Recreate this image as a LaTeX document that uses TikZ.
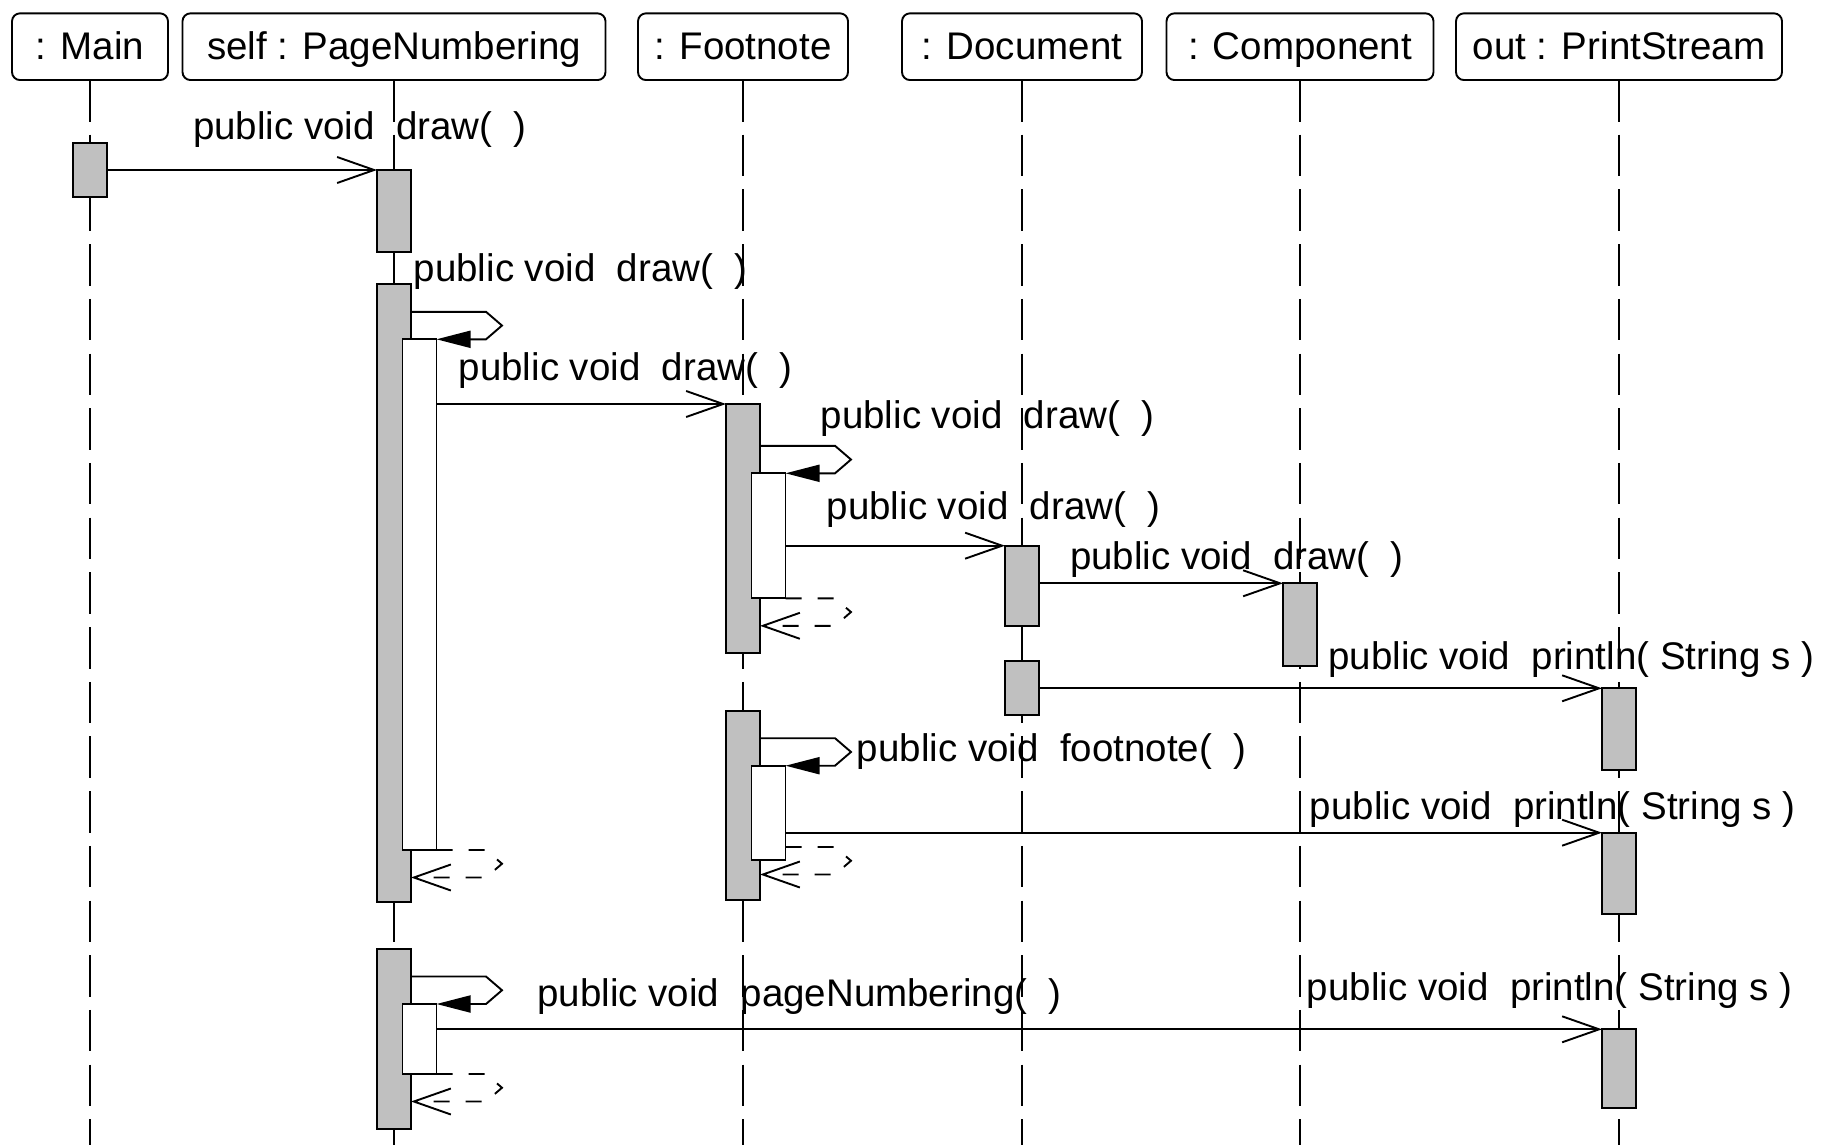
\documentclass[tikz,border=0pt]{standalone}
\usepackage{fontspec}
\setmainfont{Liberation Sans}
\usetikzlibrary{arrows.meta}
\definecolor{actgray}{RGB}{192,192,192}
\newcommand{\selfcall}[2]{%
  \coordinate (sc) at (#1.east |- #2.north);
  \draw[call] ([yshift=13.75pt]sc) -- ++(75,0) -- ++(16,13.75) -- ++(-16,13.75) -- (#2.north east);}
\newcommand{\retcall}[3]{%
  \coordinate (rc) at (#2.south east);
  \coordinate (rg) at (#1.east |- rc);
  \draw[ret] ([yshift=#3]rc) -- ([yshift=#3,xshift=37.5pt]rg) -- ++(16,13.75) -- ++(-16,13.75) -- ([yshift=#3-13.75pt]rg);}
\begin{document}
\begin{tikzpicture}[x=0.5pt,y=-0.5pt,
  every node/.style={font=\fontsize{19.25}{22}\selectfont},
  lw/.style={line width=0.95pt},
  head/.style={draw, lw, rounded corners=4pt, minimum height=33.35pt, inner sep=0pt, outer sep=0pt, text height=15.5pt, text depth=2.5pt},
  life/.style={lw, dash pattern=on 20.75pt off 6.6pt},
  act/.style={draw, lw, fill=actgray, minimum width=17pt, inner sep=0pt, outer sep=0pt, anchor=north},
  nest/.style={act, fill=white},
  msg/.style={lw, -{Straight Barb[length=18.5pt,width=13pt]}},
  call/.style={lw, -{Triangle[length=17pt,width=8.5pt]}},
  ret/.style={lw, dash pattern=on 8pt off 8pt, -{Straight Barb[length=18.5pt,width=13pt]}},
  lbl/.style={anchor=base west, inner sep=0pt}
]
\path[use as bounding box] (0,0) rectangle (1832,1145);
\coordinate (bot) at (0,1145);

% headers
\node[head, minimum width=78pt]    (hMain) at (90,46.7)   {: Main};
\node[head, minimum width=211.5pt] (hPN)   at (394,46.7)  {self : PageNumbering};
\node[head, minimum width=105pt]   (hFN)   at (743,46.7)  {: Footnote};
\node[head, minimum width=120pt]   (hDoc)  at (1022,46.7) {: Document};
\node[head, minimum width=133.5pt] (hComp) at (1300,46.7) {: Component};
\node[head, minimum width=163pt]   (hPS)   at (1619,46.7) {out : PrintStream};

% lifelines
\foreach \h in {hMain,hPN,hFN,hDoc,hComp,hPS}
  \draw[life] (\h.south) -- (\h.south |- bot);

% activations
\node[act, minimum height=27.3pt]   (aMain) at (90,142.7) {};
\node[act, minimum height=41pt]     (aPN1)  at (394,170) {};
\node[act, minimum height=309.15pt] (aPN2)  at (394,284) {};
\node[nest, minimum height=255.35pt](nPN2)  at (419.5,339.3) {};
\node[act, minimum height=124.5pt]  (aFN1)  at (743,404) {};
\node[nest, minimum height=62.5pt]  (nFN1)  at (768.5,473.3) {};
\node[act, minimum height=40.15pt]  (aDoc1) at (1022,545.7) {};
\node[act, minimum height=41.2pt]   (aComp) at (1300,583.3) {};
\node[act, minimum height=27pt]     (aDoc2) at (1022,661) {};
\node[act, minimum height=40.85pt]  (aPS1)  at (1619,688.3) {};
\node[act, minimum height=94.65pt]  (aFN2)  at (743,710.7) {};
\node[nest, minimum height=47.15pt] (nFN2)  at (768.5,765.7) {};
\node[act, minimum height=40.5pt]   (aPS2)  at (1619,832.7) {};
\node[act, minimum height=89.85pt]  (aPN3)  at (394,949.3) {};
\node[nest, minimum height=35pt]    (nPN3)  at (419.5,1004) {};
\node[act, minimum height=39.2pt]   (aPS3)  at (1619,1029.3) {};

% messages
\draw[msg] (aPN1.north west -| aMain.east) -- (aPN1.north west);
\selfcall{aPN2}{nPN2}
\draw[msg] (aFN1.north west -| nPN2.east) -- (aFN1.north west);
\selfcall{aFN1}{nFN1}
\draw[msg] (aDoc1.north west -| nFN1.east) -- (aDoc1.north west);
\retcall{aFN1}{nFN1}{0pt}
\draw[msg] (aComp.north west -| aDoc1.east) -- (aComp.north west);
\draw[msg] (aPS1.north west -| aDoc2.east) -- (aPS1.north west);
\selfcall{aFN2}{nFN2}
\draw[msg] (aPS2.north west -| nFN2.east) -- (aPS2.north west);
\retcall{aFN2}{nFN2}{6.5pt}
\retcall{aPN2}{nPN2}{0pt}
\selfcall{aPN3}{nPN3}
\draw[msg] (aPS3.north west -| nPN3.east) -- (aPS3.north west);
\retcall{aPN3}{nPN3}{0pt}

% labels
\node[lbl] (l1)  at (192.6,139.5) {public void\ \ draw(\ \ )};
\node[lbl] (l2)  at (413.3,281)   {public void\ \ draw(\ \ )};
\node[lbl] (l3)  at (458.3,380.5) {public void\ \ draw(\ \ )};
\node[lbl] (l4)  at (820.3,428) {public void\ \ draw(\ \ )};
\node[lbl] (l5)  at (826.3,519.5) {public void\ \ draw(\ \ )};
\node[lbl] (l6)  at (1069.6,569.5) {public void\ \ draw(\ \ )};
\node[lbl] (l7)  at (1328,669.5)  {public void\ \ println( String s )};
\node[lbl] (l8)  at (856.4,761)   {public void\ \ footnote(\ \ )};
\node[lbl] (l9)  at (1309.4,819)  {public void\ \ println( String s )};
\node[lbl] (l10) at (537,1006)    {public void\ \ pageNumbering(\ \ )};
\node[lbl] (l11) at (1306.4,1000.7) {public void\ \ println( String s )};
\end{tikzpicture}
\end{document}
